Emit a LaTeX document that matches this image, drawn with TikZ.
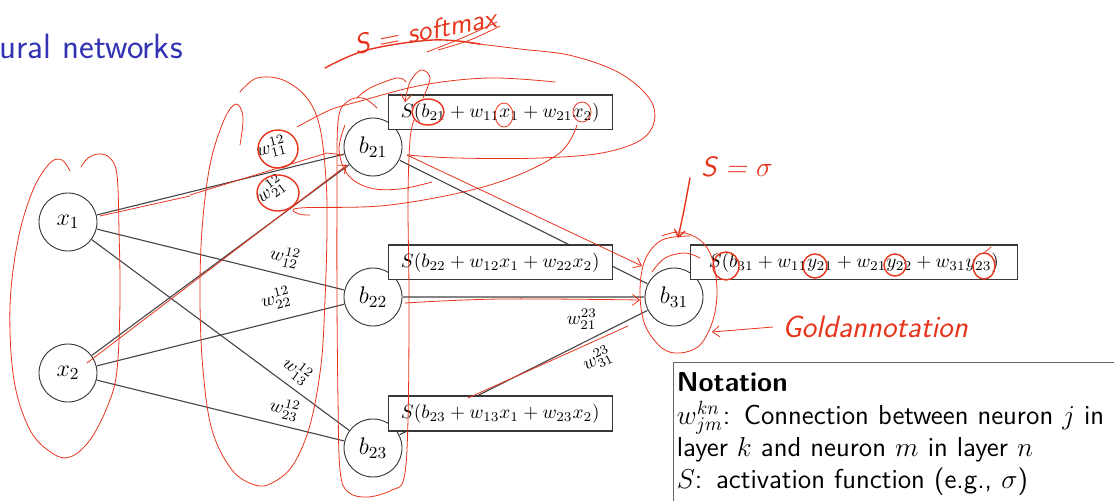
\RequirePackage{fix-cm}
\documentclass[tikz,border=0pt]{standalone}
\usetikzlibrary{arrows.meta}
\definecolor{framehead}{RGB}{51,51,179}
\definecolor{ink}{RGB}{232,52,28}
\definecolor{wire}{RGB}{68,68,68}
\begin{document}
% one coordinate unit is one point on the page; shapes and text are enlarged 1.85 times
\begin{tikzpicture}[x=0.540541pt,y=-0.540541pt,scale=1.85,transform shape,
  neuron/.style={circle,draw=black!80,line width=0.9pt,minimum size=31.35pt,inner sep=0pt,font=\fontsize{13}{15}\selectfont},
  formula/.style={draw=black!78,line width=1.3pt,fill=white,anchor=south west,minimum height=18.9pt,inner sep=0pt,font=\fontsize{10.4}{12.5}\selectfont},
  link/.style={draw=wire,line width=1.1pt},
  wlabel/.style={sloped,inner sep=1pt,font=\fontsize{10.2}{12}\selectfont},
  pen/.style={draw=ink,line width=0.8pt,line cap=round,line join=round},
  boldpen/.style={pen,line width=1.4pt},
  hand/.style={text=ink,inner sep=0pt,font=\sffamily\slshape\fontsize{15.1}{17}\selectfont},
  barb/.style={-{Straight Barb[length=7pt,width=11pt]}},
]
\useasboundingbox (0,0) rectangle (1114,501);
\clip (0,0) rectangle (1114,501);

% frame title
\node[anchor=base east,text=framehead,inner sep=0pt,font=\sffamily\fontsize{19}{22}\selectfont] (title) at (183,59) {ural networks};

% neurons
\node[neuron] (x1) at (68,222) {$x_1$};
\node[neuron] (x2) at (68,373) {$x_2$};
\node[neuron] (b21) at (373,147) {$b_{21}$};
\node[neuron] (b22) at (373,297) {$b_{22}$};
\node[neuron] (b23) at (373,448) {$b_{23}$};
\node[neuron] (b31) at (674,297) {$b_{31}$};

% weighted connections, layer 1 -> layer 2
\draw[link] (x1) -- node[wlabel,pos=0.729,above=5.9pt] {$w^{12}_{11}$} (b21);
\draw[link] (x2) -- node[wlabel,pos=0.756,above=7.4pt] {$w^{12}_{21}$} (b21);
\draw[link] (x1) -- node[wlabel,pos=0.743,above=2.8pt] {$w^{12}_{12}$} (b22);
\draw[link] (x2) -- node[wlabel,pos=0.745,above=4.7pt] {$w^{12}_{22}$} (b22);
\draw[link] (x1) -- node[wlabel,pos=0.758,above=2.3pt] {$w^{12}_{13}$} (b23);
\draw[link] (x2) -- node[wlabel,pos=0.743,above=2.2pt] {$w^{12}_{23}$} (b23);
% layer 2 -> layer 3
\draw[link] (b21) -- (b31);
\draw[link] (b22) -- node[wlabel,pos=0.741,below=5pt] {$w^{23}_{21}$} (b31);
\draw[link] (b23) -- node[wlabel,pos=0.759,below=4.5pt] {$w^{23}_{31}$} (b31);

% activation formulas
\node[formula,minimum width=121.1pt] (f21) at ([shift={(14,-16)}]b21.center) {$S(b_{21}+w_{11}x_1+w_{21}x_2)$};
\node[formula,minimum width=121.1pt] (f22) at ([shift={(14,-16)}]b22.center) {$S(b_{22}+w_{12}x_1+w_{22}x_2)$};
\node[formula,minimum width=121.1pt] (f23) at ([shift={(14,-16)}]b23.center) {$S(b_{23}+w_{13}x_1+w_{23}x_2)$};
\node[formula,minimum width=176.8pt] (f31) at ([shift={(15,-16)}]b31.center) {$S(b_{31}+w_{11}y_{21}+w_{21}y_{22}+w_{31}y_{23})$};

% notation block
\node[draw=black!60,line width=1pt,fill=white,anchor=north west,align=left,text width=254pt,inner xsep=1.6pt,inner ysep=5.4pt,font=\sffamily\fontsize{14.8}{17.46}\selectfont] (notation) at (673,362)
  {{\bfseries Notation}\\
   $w^{kn}_{jm}$: Connection between neuron $j$ in\\
   layer $k$ and neuron $m$ in layer $n$\\
   $S$: activation function (e.g., $\sigma$)};

% ---- handwritten annotations ----
\node[hand,rotate=11] (softmaxnote) at (425,31) {S = softmax};
\node[hand] (sigmanote) at (737,167) {S = $\sigma$};
\node[hand,font=\sffamily\slshape\fontsize{16.7}{19}\selectfont] (goldnote) at (875,327) {Goldannotation};

% softmax: underline running into a loop round the first formula
\draw[boldpen] plot[smooth,tension=0.6] coordinates {(325,68) (367,50) (433,40) (480,44)};
\draw[pen] plot[smooth,tension=0.6] coordinates {(470,43) (520,49) (573,56) (623,75) (653,105) (647,135) (607,152) (540,158) (457,158) (407,155)};
\draw[pen] plot[smooth,tension=0.6] coordinates {(427,52) (462,38) (497,22)};
\draw[pen] plot[smooth,tension=0.6] coordinates {(438,50) (470,40) (500,26)};

% loop round the inputs
\draw[pen] plot[smooth,tension=0.6] coordinates {(70,171) (62,160) (50,163) (33,190) (18,240) (10,307) (14,380) (30,430) (52,453) (70,457) (90,440) (108,405) (117,370) (120,300) (119,230) (117,175) (110,158) (99,154) (88,158) (81,167)};

% loop round the first-layer weights
\draw[pen] plot[smooth,tension=0.6] coordinates {(240,145) (243,117) (236,104) (224,120) (210,165) (202,230) (200,300) (203,370) (212,430) (232,470) (255,485) (272,483) (293,465) (310,425) (321,365) (325,300) (327,230) (326,180) (320,128) (307,98) (283,80) (257,78) (240,92)};
\draw[boldpen] (278,149) ellipse [x radius=20,y radius=19];
\draw[boldpen] (278,193) ellipse [x radius=21,y radius=18];

% loop round the hidden layer
\draw[pen] plot[smooth,tension=0.6] coordinates {(377,108) (363,98) (347,102) (338,122) (337,200) (337,300) (338,400) (340,470) (348,492) (368,497) (392,490) (404,478) (408,420) (409,300) (408,200) (410,140) (414,120)};
\draw[pen] plot[smooth,tension=0.6] coordinates {(357,98) (370,88) (397,78) (406,82)};

% marks on the first formula
\draw[pen] plot[smooth,tension=0.6] coordinates {(297,127) (330,110) (357,102) (423,85) (490,78) (555,82)};
\draw[pen] plot[smooth,tension=0.6] coordinates {(345,125) (339,150) (348,175) (370,188) (400,189) (432,182)};
\draw[pen] plot[smooth,tension=0.6] coordinates {(577,125) (557,155) (490,185) (390,205) (300,208) (299,214) (310,215)};
\draw[pen,barb] plot[smooth,tension=0.6] coordinates {(423,98) (430,78) (421,70) (410,82) (405,102)};
\draw[boldpen] (428,112) ellipse [x radius=16,y radius=13];
\draw[pen] (504,115) ellipse [x radius=9,y radius=12];
\draw[pen] (582,112) ellipse [x radius=9,y radius=10];

% strokes along the connections
\draw[pen] (190,195) -- (327,153) -- (343,155);
\draw[pen] (100,216) -- (190,196);
\draw[pen,barb] (87,363) -- (347,165);
\draw[pen,barb] (407,155) -- (642,266);
\draw[pen,barb] plot[smooth,tension=0.6] coordinates {(405,303) (500,299) (640,300)};
\draw[pen] (468,398) -- (628,326);

% output neuron and its formula
\draw[pen] plot[smooth,tension=0.6] coordinates {(690,236) (662,240) (645,260) (640,292) (645,325) (662,348) (680,353) (700,345) (713,320) (717,290) (712,258) (700,240) (680,232) (662,236)};
\draw[pen] plot[smooth,tension=0.6] coordinates {(652,272) (665,258) (685,253) (700,258)};
\draw[boldpen,barb] plot[smooth,tension=0.6] coordinates {(690,178) (684,210) (678,238)};
\draw[boldpen] (726,266) ellipse [x radius=13,y radius=14];
\draw[boldpen] (815,266) ellipse [x radius=12,y radius=12];
\draw[boldpen] (895,265) ellipse [x radius=11,y radius=11];
\draw[boldpen] (984,266) ellipse [x radius=11,y radius=13];
\draw[pen] (984,253) -- (991,247);
\draw[pen,barb] (773,327) -- (712,332);

\end{tikzpicture}
\end{document}
